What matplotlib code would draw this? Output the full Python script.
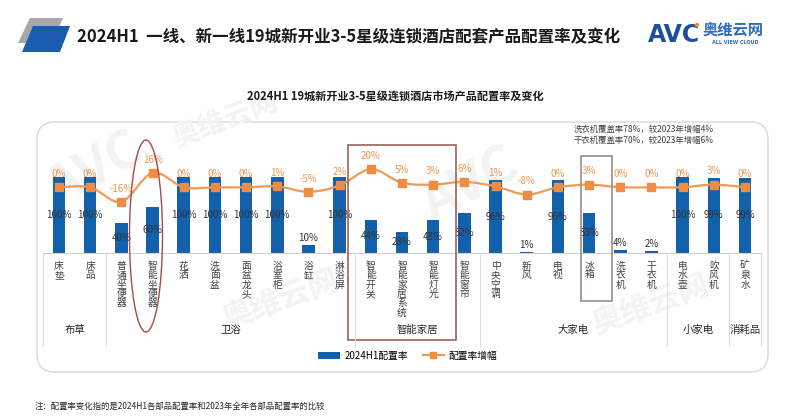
import numpy as np
import matplotlib
matplotlib.use('Agg')
import matplotlib.pyplot as plt
from matplotlib.patches import Rectangle, Ellipse, FancyBboxPatch, Polygon, PathPatch, Circle
from matplotlib.path import Path
from matplotlib.lines import Line2D
import matplotlib.transforms as mtransforms

plt.rcParams['font.family'] = ['Noto Sans CJK SC', 'DejaVu Sans']

# ---------------- data ----------------
categories = ['床垫', '床品', '普通坐便器', '智能坐便器', '花洒', '洗面盆', '面盆龙头', '浴室柜',
              '浴缸', '淋浴屏', '智能开关', '智能家居系统', '智能灯光', '智能窗帘', '中央空调',
              '新风', '电视', '冰箱', '洗衣机', '干衣机', '电水壶', '吹风机', '矿泉水']
rate_2024h1 = [100, 100, 40, 60, 100, 100, 100, 100, 10, 100, 44, 28, 43, 52, 96, 1, 96, 53, 4, 2, 100, 99, 99]
rate_change = [0, 0, -16, 16, 0, 0, 0, 1, -5, 2, 20, 5, 3, 6, 1, -8, 0, 3, 0, 0, 0, 3, 0]
groups = ['布草', '卫浴', '智能家居', '大家电', '小家电', '消耗品']
group_sizes = [2, 8, 4, 6, 2, 1]

title = '2024H1  一线、新一线19城新开业3-5星级连锁酒店配套产品配置率及变化'
subtitle = '2024H1 19城新开业3-5星级连锁酒店市场产品配置率及变化'
note_lines = ['洗衣机覆盖率78%，较2023年增幅4%', '干衣机覆盖率70%，较2023年增幅6%']
footnote = '注：配置率变化指的是2024H1各部品配置率和2023年全年各部品配置率的比较'
legend_labels = ['2024H1配置率', '配置率增幅']

BLUE = '#1461AB'
ORANGE = '#EE8C44'
ORANGE_TXT = '#F0964F'

W, H = 790, 416
fig = plt.figure(figsize=(W / 100, H / 100), dpi=100)
fig.patch.set_facecolor('white')

bg = fig.add_axes([0, 0, 1, 1], zorder=0)
bg.set_xlim(0, W); bg.set_ylim(H, 0); bg.axis('off')

# rounded panel
bg.add_patch(FancyBboxPatch((37, 122), 731, 250, boxstyle='round,pad=0,rounding_size=18',
                            ec='#D9D9D9', fc='white', lw=1.0, zorder=1))

# watermarks (faint)
wm = dict(color='#F3F3F3', fontweight='bold', ha='center', va='center', zorder=2)
bg.text(95, 170, 'AVC', fontsize=38, rotation=28, **wm)
bg.text(225, 120, '奥维云网', fontsize=20, rotation=20, **wm)
bg.text(280, 300, '奥维云网', fontsize=22, rotation=20, **wm)
bg.text(470, 185, 'AVC', fontsize=38, rotation=28, **wm)
bg.text(650, 305, '奥维云网', fontsize=22, rotation=20, **wm)

# header icon
bg.add_patch(Polygon([(30, 18), (63, 18), (52, 43), (18, 43)], closed=True, fc='#A8A8A8', ec='none', zorder=3))
bg.add_patch(Polygon([(33, 26), (70, 26), (60, 52), (22, 52)], closed=True, fc='#1A5DAE', ec='none', zorder=4))
bg.text(77, 37, title, fontsize=11.9, fontweight='bold', color='#1A1A1A', va='center', ha='left', zorder=5)

# logo
bg.text(648, 35, 'AVC', fontsize=17, fontweight='bold', color='#1B4F9E', va='center', ha='left',
        family='DejaVu Sans', zorder=5)
bg.add_patch(Circle((697, 25), 2.2, fc='#F08C2E', ec='none', zorder=5))
bg.text(703, 30, '奥维云网', fontsize=11, fontweight='bold', color='#2C6CC2', va='center', ha='left', zorder=5)
bg.text(735, 42, 'ALL VIEW CLOUD', fontsize=3.5, fontweight='bold', color='#2C6CC2', va='center', ha='center',
        family='DejaVu Sans', zorder=5)

bg.text(395, 97, subtitle, fontsize=8, fontweight='bold', color='#1A1A1A', ha='center', va='center', zorder=5)
bg.text(574, 129, note_lines[0], fontsize=6, color='#404040', ha='left', va='center', zorder=5)
bg.text(574, 140, note_lines[1], fontsize=6, color='#404040', ha='left', va='center', zorder=5)
bg.text(35, 406, footnote, fontsize=6, color='#262626', ha='left', va='center', zorder=5)

# ---------------- chart ----------------
n = len(categories)
x = np.arange(n)
ax = fig.add_axes([43.4 / W, (H - 253) / H, (760.6 - 43.4) / W, 113 / H], zorder=2)
ax.patch.set_alpha(0)
ax.bar(x, rate_2024h1, width=0.4, color=BLUE, zorder=2)
ax.set_xlim(-0.5, n - 0.5)
ax.set_ylim(0, 148.7)
ax.set_xticks([]); ax.set_yticks([])
for s in ['top', 'left', 'right']:
    ax.spines[s].set_visible(False)
ax.spines['bottom'].set_color('#D0D0D0')
ax.spines['bottom'].set_linewidth(0.8)

for i, v in enumerate(rate_2024h1):
    if v >= 20:
        ax.text(i, v / 2, f'{v}%', ha='center', va='center', fontsize=7, color='#333333', zorder=3)
    else:
        ax.text(i, v + 3, f'{v}%', ha='center', va='bottom', fontsize=7, color='#333333', zorder=3)

ax2 = ax.twinx()
ax2.set_ylim(-72.5, 52.2)
ax2.set_yticks([])
for s in ax2.spines.values():
    s.set_visible(False)

# smooth line (Catmull-Rom -> cubic Bezier through the data points)
pts = np.column_stack([x, rate_change]).astype(float)
verts = [tuple(pts[0])]
codes = [Path.MOVETO]
for i in range(n - 1):
    p0 = pts[i - 1] if i > 0 else pts[i]
    p1 = pts[i]
    p2 = pts[i + 1]
    p3 = pts[i + 2] if i + 2 < n else pts[i + 1]
    c1 = p1 + (p2 - p0) / 6.0
    c2 = p2 - (p3 - p1) / 6.0
    verts += [tuple(c1), tuple(c2), tuple(p2)]
    codes += [Path.CURVE4] * 3
ax2.add_patch(PathPatch(Path(verts, codes), fc='none', ec='#EF9A55', lw=1.6, zorder=3))
ax2.plot(x, rate_change, ls='none', marker='s', ms=5.5, color=ORANGE, zorder=4)
for i, c in enumerate(rate_change):
    ax2.annotate(f'{c}%', (i, c), xytext=(0, 9.5), textcoords='offset points', ha='center', va='center',
                 fontsize=7, color=ORANGE_TXT, zorder=5)

# ---------------- category axis (foreground overlay) ----------------
fg = fig.add_axes([0, 0, 1, 1], zorder=5)
fg.set_xlim(0, W); fg.set_ylim(H, 0); fg.axis('off')
blend = mtransforms.blended_transform_factory(ax.transData, fg.transData)

for i, c in enumerate(categories):
    fg.text(i, 261, '\n'.join(c), transform=blend, ha='center', va='top', fontsize=7,
            linespacing=0.92, color='#404040')

bounds = np.concatenate([[0], np.cumsum(group_sizes)]) - 0.5
for b in bounds:
    fg.plot([b, b], [253, 346], transform=blend, color='#DDDDDD', lw=0.8)
for gi, g in enumerate(groups):
    cx = (bounds[gi] + bounds[gi + 1]) / 2
    fg.text(cx, 330, g, transform=blend, ha='center', va='center', fontsize=7.5, color='#262626')

# highlight shapes
fg.add_patch(Ellipse((146, 236), 33, 192, fc='none', ec='#A84A48', lw=1.0))
fg.add_patch(Rectangle((348, 145), 108, 195, fc='none', ec='#A0605A', lw=1.2))
fg.add_patch(Rectangle((581, 156), 31, 145, fc='none', ec='#9C8A86', lw=1.2))

# legend
handles = [Rectangle((0, 0), 1, 1, fc=BLUE, ec='none'),
           Line2D([0], [0], color='#EF9A55', lw=1.6, marker='s', ms=5, mfc=ORANGE, mec=ORANGE)]
fig.legend(handles, legend_labels, loc='center', bbox_to_anchor=(408 / W, 1 - 356 / H), ncol=2,
           frameon=False, fontsize=7, handlelength=2.2, handleheight=0.8, columnspacing=1.5,
           handletextpad=0.5)

fig.savefig('out.png', dpi=100, facecolor='white')
